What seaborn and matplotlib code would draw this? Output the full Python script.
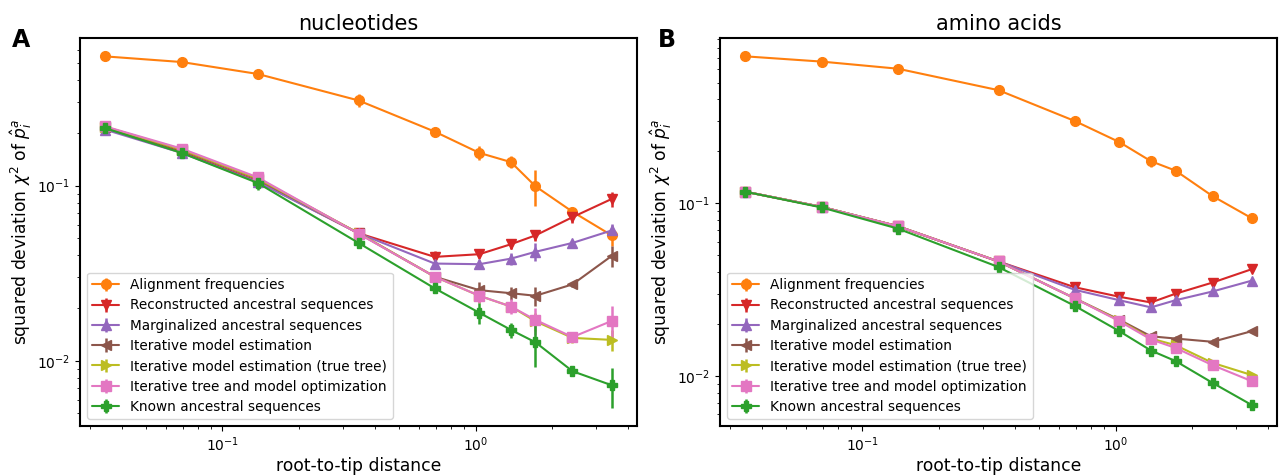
import numpy as np
import pandas as pd
import seaborn as sns
import matplotlib.pyplot as plt

### Data
dist = [0.0345, 0.069, 0.138, 0.345, 0.69, 1.035, 1.38, 1.725, 2.415, 3.45]

methods = ['Alignment frequencies',
           'Reconstructed ancestral sequences',
           'Marginalized ancestral sequences',
           'Iterative model estimation',
           'Iterative model estimation (true tree)',
           'Iterative tree and model optimization',
           'Known ancestral sequences']

# nucleotides
nuc_align = [0.548, 0.509, 0.435, 0.307, 0.2037, 0.154, 0.1364, 0.0992, 0.0710, 0.0520]
nuc_recon = [0.213, 0.156, 0.106, 0.0535, 0.0392, 0.0406, 0.0463, 0.0520, 0.0661, 0.0840]
nuc_marg = [0.209, 0.154, 0.105, 0.0535, 0.0359, 0.0356, 0.0383, 0.0419, 0.0471, 0.0555]
nuc_iter = [0.216, 0.160, 0.109, 0.0535, 0.0302, 0.0253, 0.0243, 0.0235, 0.0273, 0.0397]
nuc_iter_true = [0.217, 0.161, 0.110, 0.0535, 0.0302, 0.0235, 0.0204, 0.0168, 0.0135, 0.01315]
nuc_opt = [0.218, 0.163, 0.1116, 0.0532, 0.0302, 0.0235, 0.0204, 0.0171, 0.01365, 0.01687]
nuc_known = [0.213, 0.154, 0.1036, 0.0471, 0.0259, 0.0188, 0.0150, 0.01274, 0.00871, 0.00724]

nuc_align_err = [0.005, 0.004, 0.005, 0.027, 0.006, 0.014, 0.011, 0.023, 0.004, 0.007]
nuc_recon_err = [0.005, 0.004, 0.009, 0.003, 0.003, 0.002, 0.003, 0.004, 0.005, 0.008]
nuc_marg_err = [0.005, 0.004, 0.004, 0.002, 0.002, 0.002, 0.003, 0.005, 0.002, 0.005]
nuc_iter_err = [0.004, 0.004, 0.004, 0.002, 0.001, 0.0028, 0.002, 0.003, 0.001, 0.0055]
nuc_iter_true_err = [0.004, 0.004, 0.004, 0.002, 0.001, 0.002, 0.001, 0.002, 0.0008, 0.0018]
nuc_opt_err = [0.004, 0.004, 0.005, 0.002, 0.001, 0.002, 0.002, 0.003, 0.0008, 0.0037]
nuc_known_err = [0.004, 0.004, 0.009, 0.003, 0.001, 0.0026, 0.0015, 0.0035, 0.0005, 0.0019]

# amino acids
aa_align = [0.711, 0.663, 0.603, 0.4527, 0.3002, 0.2266, 0.1756, 0.1549, 0.1103, 0.0821]
aa_recon = [0.1169, 0.0955, 0.0738, 0.0461, 0.0327, 0.0288, 0.0267, 0.0300, 0.0348, 0.0416]
aa_marg = [0.1169, 0.0955, 0.0738, 0.0461, 0.0316, 0.0275, 0.0250, 0.0275, 0.0309, 0.0357]
aa_iter = [0.1169, 0.0955, 0.0738, 0.0461, 0.0282, 0.0212, 0.0170, 0.0165, 0.0158, 0.0182]
aa_iter_true = [0.1169, 0.0955, 0.0738, 0.0461, 0.0282, 0.0210, 0.0165, 0.0151, 0.01193, 0.01014]
aa_opt = [0.1169, 0.0955, 0.0738, 0.0461, 0.0282, 0.0208, 0.0163, 0.01456, 0.01157, 0.00935]
aa_known = [0.1169, 0.0948, 0.0715, 0.0428, 0.0255, 0.0182, 0.01406, 0.01222, 0.00914, 0.0068]

aa_align_err = [0.006, 0.005, 0.005, 0.005, 0.004, 0.004, 0.012, 0.008, 0.002, 0.002]
aa_recon_err = [0.002, 0.001, 0.001, 0.001, 0.0005, 0.0005, 0.0005, 0.0005, 0.0005, 0.0008]
aa_marg_err = [0.002, 0.001, 0.001, 0.001, 0.0005, 0.0005, 0.0005, 0.0005, 0.0005, 0.0008]
aa_iter_err = [0.002, 0.001, 0.001, 0.001, 0.0005, 0.0005, 0.0008, 0.0005, 0.0005, 0.0005]
aa_iter_true_err = [0.002, 0.001, 0.001, 0.001, 0.0005, 0.0005, 0.0005, 0.0005, 0.0003, 0.0002]
aa_opt_err = [0.002, 0.001, 0.001, 0.001, 0.0005, 0.0005, 0.0005, 0.0005, 0.0003, 0.0003]
aa_known_err = [0.002, 0.001, 0.001, 0.001, 0.0005, 0.0005, 0.0006, 0.0004, 0.0003, 0.0003]

nuc_vals = [nuc_align, nuc_recon, nuc_marg, nuc_iter, nuc_iter_true, nuc_opt, nuc_known]
nuc_errs = [nuc_align_err, nuc_recon_err, nuc_marg_err, nuc_iter_err, nuc_iter_true_err, nuc_opt_err, nuc_known_err]
aa_vals = [aa_align, aa_recon, aa_marg, aa_iter, aa_iter_true, aa_opt, aa_known]
aa_errs = [aa_align_err, aa_recon_err, aa_marg_err, aa_iter_err, aa_iter_true_err, aa_opt_err, aa_known_err]

### Style
sns.set_style('ticks')
plt.rcParams['font.family'] = ['DejaVu Sans']
plt.rcParams.update({'text.color': 'black', 'axes.labelcolor': 'black',
                     'xtick.color': 'black', 'ytick.color': 'black',
                     'axes.edgecolor': 'black',
                     'xtick.major.size': 3.5, 'ytick.major.size': 3.5,
                     'xtick.minor.size': 2, 'ytick.minor.size': 2})
tab = sns.color_palette('tab10')
colors = [tab[1], tab[3], tab[4], tab[5], tab[8], tab[6], tab[2]]
markers = ['o', 'v', '^', '<', '>', 's', 'P']


def draw_panel(ax, vals, errs, title):
    for name, v, e, c, m in zip(methods, vals, errs, colors, markers):
        ax.errorbar(dist, v, yerr=e, fmt='-' + m, color=c, lw=1.5, ms=7,
                    elinewidth=1.8, label=name)
    ax.set_xscale('log')
    ax.set_yscale('log')
    ax.set_title(title, fontsize=15)
    ax.set_xlabel('root-to-tip distance', fontsize=12.3, labelpad=2)
    ax.set_ylabel(r'squared deviation $\chi^2$ of $\hat{p}_i^a$', fontsize=12.3, labelpad=2)
    ax.tick_params(labelsize=10)
    for s in ax.spines.values():
        s.set_linewidth(1.5)
    ax.legend(loc='lower left', fontsize=9.8, labelspacing=0.46, frameon=True)


fig, axes = plt.subplots(1, 2, figsize=(12.8, 4.76), dpi=100)
plt.subplots_adjust(left=0.0625, right=0.9977, bottom=0.105, top=0.92, wspace=0.149)

draw_panel(axes[0], nuc_vals, nuc_errs, 'nucleotides')
draw_panel(axes[1], aa_vals, aa_errs, 'amino acids')

fig.text(0.009, 0.915, 'A', fontsize=17, fontweight='bold', va='center')
fig.text(0.514, 0.915, 'B', fontsize=17, fontweight='bold', va='center')

plt.savefig('out.png', dpi=100)
plt.close()
